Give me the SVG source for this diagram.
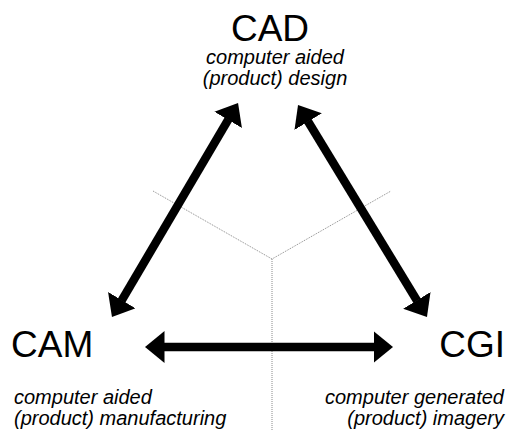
<svg xmlns="http://www.w3.org/2000/svg" width="509" height="431" viewBox="0 0 509 431">
<style>
.title{font-family:"Liberation Sans",Arial,sans-serif;font-size:37px;fill:#000}
.sub{font-family:"Liberation Sans",Arial,sans-serif;font-size:20px;font-style:italic;fill:#000}
.arrow{stroke:#000;stroke-width:8.5;fill:none;marker-start:url(#head);marker-end:url(#head)}
.guide{stroke:#8a8a8a;stroke-width:1;stroke-dasharray:1 1;fill:none}
</style>
<defs>
<marker id="head" markerUnits="userSpaceOnUse" markerWidth="20" markerHeight="32" viewBox="0 0 20 32" refX="0.5" refY="16" orient="auto-start-reverse">
<path d="M0,0 L19.5,16 L0,32 z" fill="#000"/>
</marker>
</defs>
<rect width="509" height="431" fill="#fff"/>
<g id="guides">
<polyline class="guide" points="153,191 272,259 391,191"/>
<line class="guide" x1="272" y1="259" x2="272" y2="431"/>
</g>
<g id="connectors">
<line class="arrow" x1="228.4" y1="119.4" x2="121.6" y2="300.6"/>
<line class="arrow" x1="307.9" y1="121.2" x2="417.1" y2="300.8"/>
<line class="arrow" x1="164" y1="347" x2="374" y2="347"/>
</g>
<g id="cad">
<text class="title" x="270" y="41" text-anchor="middle">CAD</text>
<text class="sub" x="275" y="64" text-anchor="middle">computer aided</text>
<text class="sub" x="275" y="85" text-anchor="middle">(product) design</text>
</g>
<g id="cam">
<text class="title" x="11" y="357">CAM</text>
<text class="sub" x="14" y="404">computer aided</text>
<text class="sub" x="14" y="425">(product) manufacturing</text>
</g>
<g id="cgi">
<text class="title" x="505" y="357" text-anchor="end">CGI</text>
<text class="sub" x="504" y="404" text-anchor="end">computer generated</text>
<text class="sub" x="504" y="425" text-anchor="end">(product) imagery</text>
</g>
</svg>
